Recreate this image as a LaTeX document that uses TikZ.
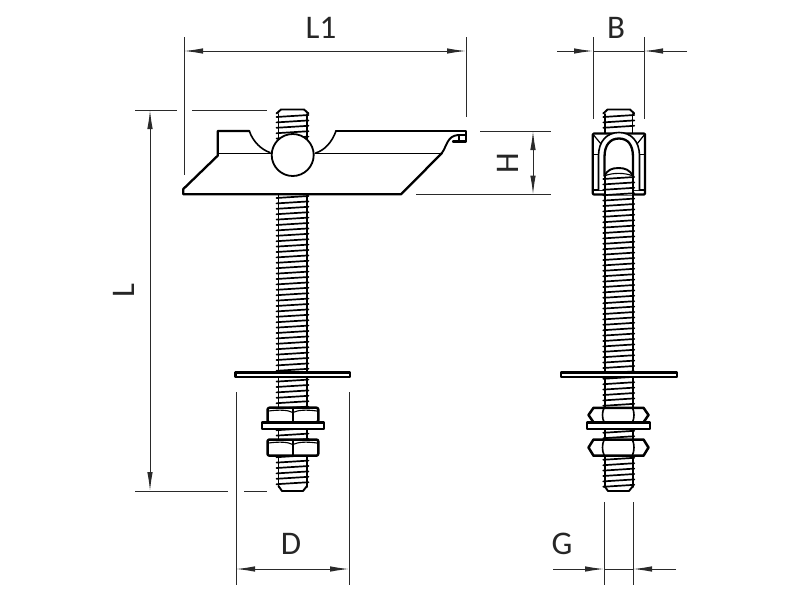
\documentclass[tikz,border=0pt]{standalone}
\usepackage{fontspec}
\setmainfont{Carlito}
\usetikzlibrary{arrows.meta}
\definecolor{dimgrey}{HTML}{2A2A2A}
\tikzset{
  part/.style={draw=black,line width=1.9pt,line join=round,line cap=round},
  thin part/.style={draw=black,line width=1.1pt,line cap=round},
  ext/.style={draw=dimgrey,line width=1pt},
  dimline/.style={draw=dimgrey,line width=1pt},
  tip/.tip={Latex[length=19pt,width=5.5pt]},
  both/.style={dimline,{tip}-{tip}},
  endtip/.style={dimline,-{tip}},
  label/.style={font=\fontsize{33}{33}\selectfont,inner sep=0pt,text=black!85},
  nutbox/.style={part,fill=white,line width=2.5pt},
  washer/.style={part,fill=white,line width=2.2pt},
  rodedge/.style={part,line width=1.6pt},
}
\newcommand{\threadlines}[5]{%
  \foreach \yy in {#3,#5,...,#4}{
    \draw[part,line width=1.7pt] (#1,\yy+1) -- (#2,\yy-1);
  }%
}
\begin{document}
\begin{tikzpicture}[x=1pt,y=-1pt]
\useasboundingbox (0,0) rectangle (800,600);
\fill[white] (0,0) rectangle (800,600);

% --- left view: rod ---
\draw[rodedge] (278.3,114) -- (278.3,487);
\draw[rodedge] (306.7,114) -- (306.7,487);
\threadlines{276.5}{308.5}{116}{486}{121.4}
\draw[part] (276.5,113.5) -- (281,109.5) -- (304,109.5) -- (308.5,113.5);
\draw[part] (278.5,486) -- (282,491) -- (303,491) -- (307,486);

% --- left view: plate ---
\fill[white] (183.3,189) -- (217.7,155.7) -- (217.7,131) -- (249.3,131)
  .. controls (253,142) and (262,150) .. (270,152.5)
  -- (315.7,153) .. controls (325,150) and (332,142) .. (336,131)
  -- (466,131) -- (466,141.5) -- (450,141.5) -- (441.7,153.3) -- (401,194.3) -- (183.3,194.3) -- cycle;
\draw[part,line width=2.3pt] (249.3,131) -- (217.7,131) -- (217.7,155.7) -- (183.3,189) -- (183.3,194.3) -- (401,194.3) -- (441.7,153.3);
\draw[part,line width=1.6pt] (249.3,131) .. controls (253,142) and (262,150) .. (270,152.5);
\draw[part,line width=1.6pt] (315.7,153) .. controls (325,150) and (332,142) .. (336,131);
\draw[part,line width=2.3pt] (336,131) -- (466,131) -- (466,141.5) -- (453,141.5);
\draw[part,line width=1.9pt] (441.7,153.3) .. controls (447,146) and (447,136) .. (458,135) -- (466,135);
\draw[thin part] (459,135) -- (459,141.5);
\draw[thin part] (219,153.3) -- (271,153.3);
\draw[thin part] (315,153.3) -- (441.7,153.3);
\draw[part,fill=white,line width=1.8pt] (292.7,155) circle (21);

% --- left view: washers and nuts ---
\draw[washer] (235.5,372.5) rectangle (350,376.7);
\draw[nutbox,rounded corners=2pt] (267.5,407.7) rectangle (318.3,422.3);
\draw[part] (292.8,408) -- (292.8,422);
\draw[thin part] (268.5,411) .. controls (280,409.5) and (288,410) .. (292.8,412.5) .. controls (298,410) and (306,409.5) .. (317,411);
\draw[washer] (261.7,422.5) rectangle (324,429.3);
\draw[nutbox,rounded corners=2pt] (267.5,439.5) rectangle (318.3,455.7);
\draw[part] (292.8,440) -- (292.8,455);
\draw[thin part] (268.5,443) .. controls (280,441.5) and (288,442) .. (292.8,444.5) .. controls (298,442) and (306,441.5) .. (317,443);

% --- right view: rod top ---
\draw[rodedge] (605,114) -- (605,134);
\draw[rodedge] (632.5,114) -- (632.5,134);
\threadlines{603.3}{634.3}{116}{131}{121.4}
\draw[part] (603.3,113.5) -- (607.5,109.5) -- (630,109.5) -- (634.3,113.5);

% --- right view: clip ---
\draw[part,fill=white,line width=2.2pt,rounded corners=1pt] (592.8,133.5) rectangle (645,194.5);
\draw[part,line width=1.6pt] (592.8,190) -- (604,190);
\draw[part,line width=1.6pt] (634,190) -- (645,190);
\draw[part,line width=1.2pt] (592.8,134) -- (601,144);
\draw[part,line width=1.2pt] (645,134) -- (637,144);
\draw[thin part] (592.8,154.5) -- (598.5,154.5);
\draw[thin part] (639.5,154.5) -- (645,154.5);
\draw[part,fill=white,line width=1.6pt] (598.5,190) -- (598.5,156)
  .. controls (598.5,141) and (607,132.5) .. (619,132.5)
  .. controls (631,132.5) and (639.5,141) .. (639.5,156) -- (639.5,190);
\draw[part,line width=2.3pt] (604.5,176) -- (604.5,157)
  .. controls (604.5,145) and (610,138.5) .. (619,138.5)
  .. controls (628,138.5) and (633,145) .. (633,157) -- (633,176);

% --- right view: rod lower ---
\fill[white] (604,176) .. controls (607,170) and (612,168) .. (618.5,168)
  .. controls (625,168) and (630,170) .. (633.5,176) -- (633.5,195) -- (604,195) -- cycle;
\draw[rodedge] (604.8,176) -- (604.8,487);
\draw[rodedge] (632.8,176) -- (632.8,487);
\threadlines{603.2}{634.3}{178}{486}{183.4}
\draw[part] (604.5,176) .. controls (607,170) and (612,168) .. (618.5,168)
  .. controls (625,168) and (630,170) .. (633,176);
\draw[thin part] (604.5,176) .. controls (612,172.5) and (625,172.5) .. (633,176);
\draw[part] (604.5,486) -- (608,491) -- (629,491) -- (633,486);

% --- right view: washers and nuts ---
\draw[washer] (561,372.5) rectangle (676.7,376.7);
\draw[nutbox] (588.5,415) -- (593.5,407.8) -- (643.5,407.8) -- (648.5,415) -- (643.5,422.3) -- (593.5,422.3) -- cycle;
\draw[rodedge] (604,408) .. controls (602,412) and (602,418) .. (604,422);
\draw[rodedge] (632.5,408) .. controls (634.5,412) and (634.5,418) .. (632.5,422);
\draw[washer] (587,422.5) rectangle (650,429.3);
\draw[nutbox] (588.5,447.5) -- (593.5,439.5) -- (643.5,439.5) -- (648.5,447.5) -- (643.5,455.7) -- (593.5,455.7) -- cycle;
\draw[rodedge] (604,440) .. controls (602,444) and (602,451) .. (604,455);
\draw[rodedge] (632.5,440) .. controls (634.5,444) and (634.5,451) .. (632.5,455);

% --- dimension anchors ---
\coordinate (l1a) at (184,51);
\coordinate (l1b) at (466,51);
\coordinate (bl0) at (557,51);
\coordinate (bl1) at (593,51);
\coordinate (br0) at (687,51);
\coordinate (br1) at (644,51);
\coordinate (la) at (150,110);
\coordinate (lb) at (150,491);
\coordinate (ha) at (533,131);
\coordinate (hb) at (533,194.5);
\coordinate (da) at (236,569);
\coordinate (db) at (349,569);
\coordinate (gl0) at (553,569);
\coordinate (gl1) at (604,569);
\coordinate (gr0) at (676,569);
\coordinate (gr1) at (633,569);

% extension lines
\draw[ext] (184,37) -- (184,175);
\draw[ext] (466,37) -- (466,117);
\draw[ext] (593,37) -- (593,119);
\draw[ext] (644,37) -- (644,119);
\draw[ext] (135,110) -- (177,110);
\draw[ext] (192,110) -- (267,110);
\draw[ext] (135,491) -- (228,491);
\draw[ext] (244,491) -- (267,491);
\draw[ext] (480,131) -- (551,131);
\draw[ext] (416,194.5) -- (551,194.5);
\draw[ext] (236,392) -- (236,585);
\draw[ext] (349,392) -- (349,585);
\draw[ext] (604,502) -- (604,585);
\draw[ext] (633,502) -- (633,585);

% dimension lines
\draw[both] (l1a) -- (l1b);
\draw[endtip] (bl0) -- (bl1);
\draw[endtip] (br0) -- (br1);
\draw[dimline] (bl1) -- (br1);
\draw[both] (la) -- (lb);
\draw[both] (ha) -- (hb);
\draw[both] (da) -- (db);
\draw[endtip] (gl0) -- (gl1);
\draw[endtip] (gr0) -- (gr1);
\draw[dimline] (gl1) -- (gr1);

% labels
\node[label] (tl1) at (321,28) {L1};
\node[label] (tb) at (616,28) {B};
\node[label,rotate=90] (tl) at (124,291) {L};
\node[label,rotate=90] (th) at (508,163) {H};
\node[label] (td) at (291,544) {D};
\node[label] (tg) at (562,544) {G};
\end{tikzpicture}
\end{document}
